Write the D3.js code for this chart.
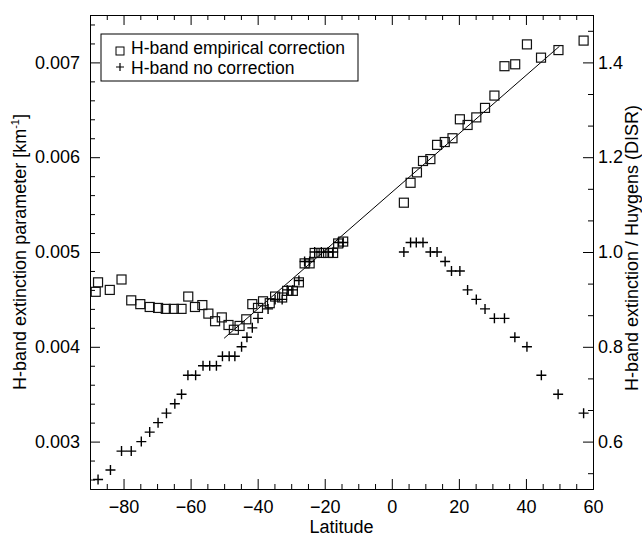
<!DOCTYPE html>
<html>
<head>
<meta charset="utf-8">
<script src="https://cdn.jsdelivr.net/npm/d3@7"></script>
<style>
  body { margin: 0; background: #fff; }
  svg { font-family: "Liberation Sans", Arial, sans-serif; }
  .axis path, .axis line { stroke: #000; }
  .axis text { font-size: 18px; fill: #000; font-family: "Liberation Sans", Arial, sans-serif; }
</style>
</head>
<body>
<div id="chart"></div>
<script>
// Empirical correction (squares)
const corrLat = [-88.3, -87.6, -84.1, -80.6, -77.7, -75.0, -72.2, -69.7, -67.4, -65.0,
  -62.7, -60.7, -58.7, -56.5, -54.7, -52.7, -50.7, -48.7, -47.1, -45.4,
  -43.4, -41.6, -39.9, -38.4, -36.4, -34.8, -32.7, -31.2, -29.5, -27.7,
  -26.0, -24.5, -23.0, -21.0, -19.0, -17.5, -16.0, -14.5,
  3.6, 5.6, 7.5, 9.3, 11.5, 13.5, 15.8, 18.1, 20.3, 22.6,
  25.2, 27.8, 30.6, 33.6, 36.8, 40.3, 44.5, 49.7, 57.2];
const corrVal = [0.00458, 0.00468, 0.00460, 0.00471, 0.00449, 0.00445, 0.00442, 0.00441, 0.00440, 0.00440,
  0.00440, 0.00453, 0.00442, 0.00444, 0.00435, 0.00427, 0.00431, 0.00423, 0.00418, 0.00422,
  0.00429, 0.00445, 0.00441, 0.00448, 0.00446, 0.00453, 0.00452, 0.00459, 0.00459, 0.00468,
  0.00488, 0.00488, 0.00499, 0.00499, 0.00499, 0.00499, 0.00509, 0.00511,
  0.00552, 0.00573, 0.00584, 0.00596, 0.00598, 0.00613, 0.00616, 0.00620, 0.00640, 0.00634,
  0.00642, 0.00652, 0.00665, 0.00696, 0.00698, 0.00719, 0.00705, 0.00713, 0.00723];

// No correction (crosses)
const rawLat = [-87.6, -83.9, -80.6, -77.7, -74.7, -72.2, -69.7, -67.2, -64.7, -62.7,
  -60.8, -58.5, -56.3, -54.3, -52.3, -50.5, -48.5, -46.8, -44.8, -43.2,
  -41.6, -39.9, -36.9, -34.8, -32.7, -31.2, -29.5, -27.7, -26.0, -24.5,
  -23.0, -21.0, -19.0, -17.5, -16.0, -14.5,
  3.6, 5.6, 7.3, 9.3, 11.5, 13.5, 15.9, 17.8, 20.3, 22.6,
  25.2, 27.8, 30.6, 33.6, 36.7, 40.3, 44.6, 49.6, 57.2];
const rawVal = [0.0026, 0.0027, 0.0029, 0.0029, 0.0030, 0.0031, 0.0032, 0.0033, 0.0034, 0.0035,
  0.0037, 0.0037, 0.0038, 0.0038, 0.0038, 0.0039, 0.0039, 0.0039, 0.0040, 0.0041,
  0.0042, 0.0043, 0.0044, 0.0045, 0.0045, 0.0046, 0.0046, 0.0047, 0.0049, 0.0049,
  0.0050, 0.0050, 0.0050, 0.0050, 0.0051, 0.0051,
  0.0050, 0.0051, 0.0051, 0.0051, 0.0050, 0.0050, 0.0049, 0.0048, 0.0048, 0.0046,
  0.0045, 0.0044, 0.0043, 0.0043, 0.0041, 0.0040, 0.0037, 0.0035, 0.0033];

// Linear fit
const fitLat = [-50, 50];
const fitVal = [0.00409, 0.00717];

// Ticks
const xTicks = [-80, -60, -40, -20, 0, 20, 40, 60];
const yTicks = [0.003, 0.004, 0.005, 0.006, 0.007];
const y2Ticks = [0.6, 0.8, 1.0, 1.2, 1.4];
const huygens = 0.005;

const width = 642;
const height = 536;
const margin = { top: 15, right: 49, bottom: 47, left: 90 };
const w = width - margin.left - margin.right;
const h = height - margin.top - margin.bottom;

const x = d3.scaleLinear().domain([-90, 60]).range([0, w]);
const y = d3.scaleLinear().domain([0.0025, 0.0075]).range([h, 0]);
const y2 = d3.scaleLinear().domain([0.0025 / huygens, 0.0075 / huygens]).range([h, 0]);

const svg = d3.select("#chart")
  .append("svg")
  .attr("width", width)
  .attr("height", height)
  .append("g")
  .attr("transform", `translate(${margin.left},${margin.top})`);

// minor tick values
const xMinor = d3.range(-90, 61, 5).filter((d) => d % 20 !== 0);
const yMinor = d3.range(13, 38).filter((i) => i % 5 !== 0).map((i) => i * 0.0002);
const y2Minor = d3.range(-1, 14).filter((i) => i % 3 !== 0).map((i) => 0.6 + i * 0.2 / 3);

// bottom axis
svg.append("g").attr("class", "axis")
  .attr("transform", `translate(0,${h})`)
  .call(d3.axisBottom(x).tickValues(xTicks).tickSizeInner(-10).tickSizeOuter(0).tickPadding(11)
    .tickFormat(d3.format("d")));
svg.append("g").attr("class", "axis")
  .attr("transform", `translate(0,${h})`)
  .call(d3.axisBottom(x).tickValues(xMinor).tickSizeInner(-5).tickSizeOuter(0).tickFormat(""));

// top axis (mirror)
svg.append("g").attr("class", "axis")
  .call(d3.axisTop(x).tickValues(xTicks).tickSizeInner(-10).tickSizeOuter(0).tickFormat(""));
svg.append("g").attr("class", "axis")
  .call(d3.axisTop(x).tickValues(xMinor).tickSizeInner(-5).tickSizeOuter(0).tickFormat(""));

// left axis
svg.append("g").attr("class", "axis")
  .call(d3.axisLeft(y).tickValues(yTicks).tickSizeInner(-10).tickSizeOuter(0).tickPadding(10)
    .tickFormat(d3.format(".3f")));
svg.append("g").attr("class", "axis")
  .call(d3.axisLeft(y).tickValues(yMinor).tickSizeInner(-5).tickSizeOuter(0).tickFormat(""));

// right axis
svg.append("g").attr("class", "axis")
  .attr("transform", `translate(${w},0)`)
  .call(d3.axisRight(y2).tickValues(y2Ticks).tickSizeInner(-10).tickSizeOuter(0).tickPadding(5)
    .tickFormat(d3.format(".1f")));
svg.append("g").attr("class", "axis")
  .attr("transform", `translate(${w},0)`)
  .call(d3.axisRight(y2).tickValues(y2Minor).tickSizeInner(-5).tickSizeOuter(0).tickFormat(""));

// axis titles
svg.append("text")
  .attr("x", w / 2)
  .attr("y", h + 44)
  .attr("text-anchor", "middle")
  .style("font-size", "18px")
  .text("Latitude");

const yTitle = svg.append("text")
  .attr("transform", `translate(${-64},${h / 2}) rotate(-90)`)
  .attr("text-anchor", "middle")
  .style("font-size", "18px");
yTitle.append("tspan").text("H-band extinction parameter [km");
yTitle.append("tspan").attr("dy", -7).style("font-size", "11px").text("-1");
yTitle.append("tspan").attr("dy", 7).text("]");

svg.append("text")
  .attr("transform", `translate(${w + 45},${h / 2 - 4}) rotate(-90)`)
  .attr("text-anchor", "middle")
  .style("font-size", "18px")
  .text("H-band extinction / Huygens (DISR)");

// fit line
const corr = corrLat.map((d, i) => ({ lat: d, val: corrVal[i] }));
const raw = rawLat.map((d, i) => ({ lat: d, val: rawVal[i] }));
const fit = fitLat.map((d, i) => ({ lat: d, val: fitVal[i] }));

const line = d3.line().x((d) => x(d.lat)).y((d) => y(d.val));
svg.append("path")
  .datum(fit)
  .attr("d", line)
  .style("fill", "none")
  .style("stroke", "#000")
  .style("stroke-width", 1);

// squares
const sq = 9;
svg.selectAll(".sq")
  .data(corr)
  .enter()
  .append("rect")
  .attr("class", "sq")
  .attr("x", (d) => x(d.lat) - sq / 2)
  .attr("y", (d) => y(d.val) - sq / 2)
  .attr("width", sq)
  .attr("height", sq)
  .style("fill", "none")
  .style("stroke", "#111")
  .style("stroke-width", 1.2);

// crosses
const cr = 5;
const crossPath = (cx, cy, r) => `M${cx - r},${cy}H${cx + r}M${cx},${cy - r}V${cy + r}`;
svg.selectAll(".cr")
  .data(raw)
  .enter()
  .append("path")
  .attr("class", "cr")
  .attr("d", (d) => crossPath(x(d.lat), y(d.val), cr))
  .style("fill", "none")
  .style("stroke", "#000")
  .style("stroke-width", 1.4);

// legend
const lg = svg.append("g").attr("transform", `translate(${101 - margin.left},${34 - margin.top})`);
lg.append("rect")
  .attr("width", 257)
  .attr("height", 47)
  .style("fill", "#fff")
  .style("stroke", "#000")
  .style("stroke-width", 1);
lg.append("rect")
  .attr("x", 15).attr("y", 13).attr("width", 8).attr("height", 8)
  .style("fill", "none").style("stroke", "#000").style("stroke-width", 1);
lg.append("path")
  .attr("d", crossPath(19, 33, 4))
  .style("stroke", "#000").style("stroke-width", 1.2);
lg.append("text").attr("x", 30).attr("y", 20).style("font-size", "17.5px")
  .text("H-band empirical correction");
lg.append("text").attr("x", 30).attr("y", 39.5).style("font-size", "17.5px")
  .text("H-band no correction");
</script>
</body>
</html>
